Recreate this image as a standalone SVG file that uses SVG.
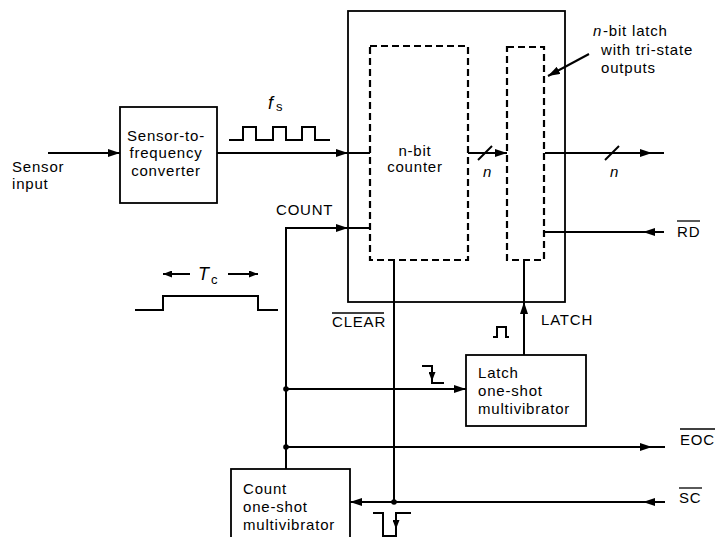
<svg xmlns="http://www.w3.org/2000/svg" width="717" height="537" viewBox="0 0 717 537">
<style>
  .t { font-family: "Liberation Sans", Arial, sans-serif; font-size: 15px; letter-spacing: 0.8px; fill: #000; }
  .i { font-style: italic; }
  .box { fill: #fff; stroke: #000; stroke-width: 1.8; }
  .dash { fill: none; stroke: #000; stroke-width: 2.2; stroke-dasharray: 7 4; }
  .w { fill: none; stroke: #000; stroke-width: 2; }
  .c { fill: none; stroke: #000; stroke-width: 2; }
  .a { marker-end: url(#ah); }
  .ol { stroke: #000; stroke-width: 1.3; }
</style>
<defs>
  <marker id="ah" markerUnits="userSpaceOnUse" markerWidth="12" markerHeight="8" refX="12" refY="4" orient="auto">
    <path d="M0,0 L12,4 L0,8 z" fill="#000"/>
  </marker>
  <marker id="ahs" markerUnits="userSpaceOnUse" markerWidth="9" markerHeight="7" refX="9" refY="3.5" orient="auto">
    <path d="M0,0 L9,3.5 L0,7 z" fill="#000"/>
  </marker>
</defs>
<rect width="717" height="537" fill="#fff"/>

<g id="main-chip">
  <rect class="box" x="348" y="11" width="217" height="291"/>
</g>
<g id="counter">
  <rect class="dash" x="370" y="46" width="98" height="214"/>
  <text class="t" x="415" y="156" text-anchor="middle">n-bit</text>
  <text class="t" x="415" y="172" text-anchor="middle">counter</text>
</g>
<g id="latch">
  <rect class="dash" x="507" y="47" width="37" height="213"/>
</g>
<g id="latch-label">
  <text class="t i" x="593" y="36">n</text>
  <text class="t" x="603" y="36">-bit latch</text>
  <text class="t" x="601" y="55">with tri-state</text>
  <text class="t" x="601" y="73">outputs</text>
</g>
<g id="converter">
  <rect class="box" x="120" y="107" width="97" height="96"/>
  <text class="t" x="166" y="141" text-anchor="middle">Sensor-to-</text>
  <text class="t" x="166" y="158" text-anchor="middle">frequency</text>
  <text class="t" x="166" y="176" text-anchor="middle">converter</text>
</g>
<g id="sensor-input">
  <text class="t" x="12" y="172">Sensor</text>
  <text class="t" x="12" y="189">input</text>
</g>
<g id="latch-oneshot">
  <rect class="box" x="466" y="355" width="120" height="71"/>
  <text class="t" x="478" y="378">Latch</text>
  <text class="t" x="478" y="396">one-shot</text>
  <text class="t" x="478" y="414">multivibrator</text>
</g>
<g id="count-oneshot">
  <rect class="box" x="231" y="469" width="119" height="80"/>
  <text class="t" x="243" y="494">Count</text>
  <text class="t" x="243" y="512">one-shot</text>
  <text class="t" x="243" y="530">multivibrator</text>
</g>

<g id="labels">
  <text class="t" x="276" y="215">COUNT</text>
  <text class="t" x="541" y="325">LATCH</text>
  <text class="t" x="332" y="327">CLEAR</text>
  <line class="ol" x1="332" y1="313" x2="384" y2="313"/>
  <text class="t" x="677" y="237">RD</text>
  <line class="ol" x1="677" y1="221" x2="700" y2="221"/>
  <text class="t" x="680" y="445">EOC</text>
  <line class="ol" x1="680" y1="429" x2="715" y2="429"/>
  <text class="t" x="679" y="503">SC</text>
  <line class="ol" x1="679" y1="488" x2="702" y2="488"/>
  <text class="t i" x="483" y="177">n</text>
  <text class="t i" x="610" y="177">n</text>
  <text class="t i" x="268" y="109" style="font-size:18px">f</text>
  <text class="t" x="276" y="111" style="font-size:13px">s</text>
  <text class="t i" x="198" y="280" style="font-size:18px">T</text>
  <text class="t" x="211" y="284" style="font-size:13px">c</text>
</g>

<g id="waveforms">
  <polyline class="w" points="229,140 243,140 243,127 256,127 256,140 273,140 273,127 286,127 286,140 302,140 302,127 315,127 315,140 330,140"/>
  <polyline class="w" points="135,310 163,310 163,296 258,296 258,310 278,310"/>
  <line class="c" x1="190" y1="274" x2="163" y2="274" marker-end="url(#ahs)"/>
  <line class="c" x1="228" y1="274" x2="258" y2="274" marker-end="url(#ahs)"/>
  <polyline class="w" points="493,337 497,337 497,327 506,327 506,337 509,337"/>
  <polyline class="w" points="422,366 432,366 432,383 444,383"/>
  <line class="c" x1="432" y1="370" x2="432" y2="381" marker-end="url(#ahs)"/>
  <polyline class="w" points="373,513 383,513 383,536 396,536 396,513 411,513"/>
  <line class="c" x1="396" y1="516" x2="396" y2="529" marker-end="url(#ahs)"/>
</g>

<g id="connectors">
  <line class="c a" x1="48" y1="153" x2="120" y2="153"/>
  <line class="c a" x1="217" y1="153" x2="348" y2="153"/>
  <line class="c" x1="348" y1="153" x2="370" y2="153"/>
  <polyline class="c a" points="286,469 286,228 348,228"/>
  <line class="c" x1="348" y1="228" x2="370" y2="228"/>
  <line class="c a" x1="468" y1="153" x2="507" y2="153"/>
  <line class="c" x1="478" y1="160" x2="492" y2="146"/>
  <line class="c a" x1="545" y1="153" x2="652" y2="153"/>
  <line class="c" x1="652" y1="153" x2="664" y2="153"/>
  <line class="c" x1="605" y1="160" x2="619" y2="146"/>
  <line class="c a" x1="664" y1="232" x2="643" y2="232"/>
  <line class="c" x1="643" y1="232" x2="545" y2="232"/>
  <line class="c" x1="394" y1="260" x2="394" y2="502"/>
  <line class="c a" x1="524" y1="355" x2="524" y2="302"/>
  <line class="c" x1="524" y1="302" x2="524" y2="260"/>
  <line class="c a" x1="286" y1="389" x2="466" y2="389"/>
  <line class="c a" x1="286" y1="447" x2="652" y2="447"/>
  <line class="c" x1="652" y1="447" x2="665" y2="447"/>
  <line class="c a" x1="665" y1="502" x2="643" y2="502"/>
  <line class="c a" x1="643" y1="502" x2="350" y2="502"/>
  <line class="c a" x1="589" y1="54" x2="548" y2="76"/>
  <circle cx="286" cy="389" r="2.8" fill="#000"/>
  <circle cx="286" cy="447" r="2.8" fill="#000"/>
  <circle cx="394" cy="502" r="2.8" fill="#000"/>
</g>
</svg>
